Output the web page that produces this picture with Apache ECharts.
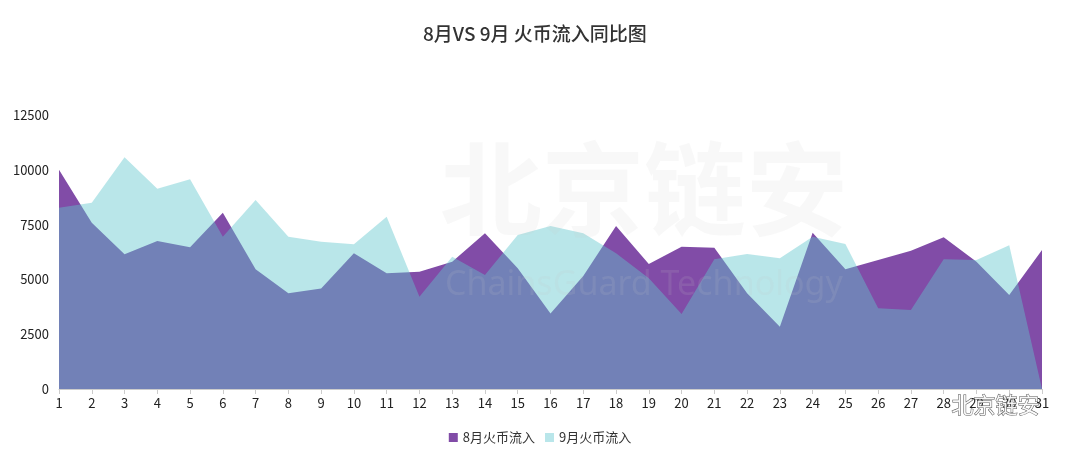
<!DOCTYPE html>
<html>
<head>
<meta charset="utf-8">
<script src="https://cdn.jsdelivr.net/npm/echarts@6/dist/echarts.min.js"></script>
<style>
html,body{margin:0;padding:0;background:#fff;}
#c{width:1080px;height:460px;}
</style>
</head>
<body>
<div id="c"></div>
<script>
const days = ['1','2','3','4','5','6','7','8','9','10','11','12','13','14','15','16','17','18','19','20','21','22','23','24','25','26','27','28','29','30','31'];
const aug = [10000,7590,6145,6750,6465,8040,5460,4365,4590,6190,5280,5350,5810,7100,5505,3450,5150,7435,5700,6490,6445,4365,2845,7130,5460,5885,6310,6920,5800,4290,6340];
const sep = [8270,8500,10570,9140,9565,6950,8620,6950,6720,6600,7860,4210,6035,5200,7025,7435,7100,6190,5050,3420,5915,6160,5960,6950,6615,3680,3600,5915,5880,6555,0];
const yTicks = [0,2500,5000,7500,10000,12500];
const seriesNames = ['8月火币流入','9月火币流入'];

const font = '"Noto Sans CJK SC","Noto Sans",sans-serif';
const chart = echarts.init(document.getElementById('c'), null, {renderer:'canvas'});
chart.setOption({
  backgroundColor:'#fff',
  animation:false,
  title:{text:'8月VS 9月 火币流入同比图',left:418,top:19,
    textStyle:{fontFamily:font,fontSize:19,fontWeight:500,color:'#333'}},
  grid:{left:59,right:38,top:115,bottom:71,containLabel:false},
  legend:{bottom:11,left:'center',itemWidth:9,itemHeight:9,itemGap:10,icon:'rect',
    textStyle:{fontFamily:font,fontSize:13,color:'#333'},
    data:[{name:seriesNames[0],itemStyle:{color:'#814ca7'}},{name:seriesNames[1],itemStyle:{color:'#b9e6ea'}}]},
  xAxis:{type:'category',data:days,boundaryGap:false,
    axisLine:{lineStyle:{color:'#ccc'}},axisTick:{lineStyle:{color:'#ccc'},length:5},
    axisLabel:{color:'#222',fontFamily:font,fontSize:13,margin:8}},
  yAxis:{type:'value',min:yTicks[0],max:yTicks[yTicks.length-1],interval:2500,
    axisLine:{show:false},axisTick:{show:false},splitLine:{show:false},
    axisLabel:{color:'#222',fontFamily:font,fontSize:13,margin:10,formatter:function(v){return String(v);}}},
  graphic:[
    {type:'text',left:440,top:138,z:100,silent:true,style:{text:'北京链安',font:'bold 102px "Noto Sans CJK SC"',fill:'rgba(200,200,200,0.13)'}},
    {type:'text',left:445,top:268,z:100,silent:true,style:{text:'ChainsGuard Technology',font:'34px "Noto Sans"',fill:'rgba(200,200,200,0.14)'}},
    {type:'text',right:40,top:393,z:100,silent:true,style:{text:'北京链安',font:'22px "Noto Sans CJK SC"',fill:'rgba(255,255,255,0.9)',stroke:'#555',lineWidth:1}}
  ],
  series:[
    {name:seriesNames[0],type:'line',data:aug,showSymbol:false,symbol:'none',
     lineStyle:{width:0},itemStyle:{color:'#814ca7'},areaStyle:{color:'#814ca7',opacity:1}},
    {name:seriesNames[1],type:'line',data:sep,showSymbol:false,symbol:'none',
     lineStyle:{width:0},itemStyle:{color:'#b9e6ea'},areaStyle:{color:'rgb(96,198,205)',opacity:0.44}}
  ]
});
</script>
</body>
</html>
